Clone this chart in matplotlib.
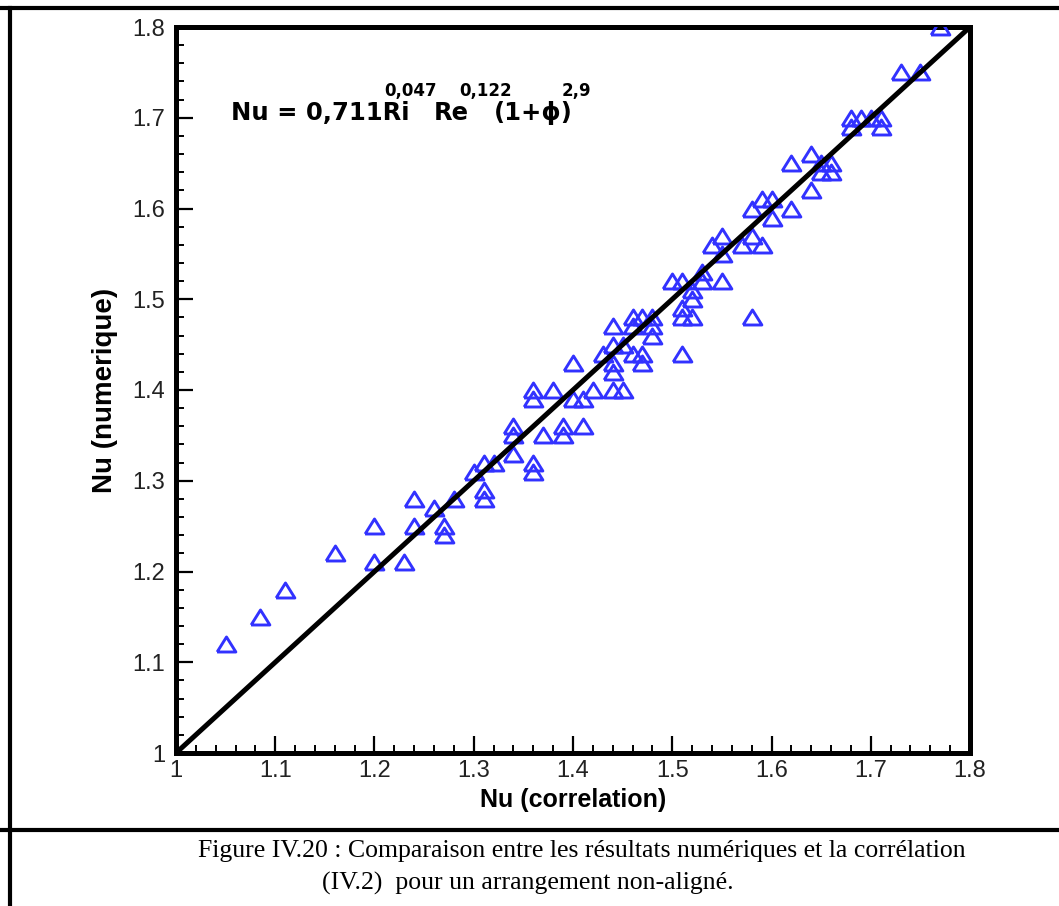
import matplotlib
matplotlib.use("Agg")
import matplotlib.pyplot as plt
from matplotlib import font_manager
from matplotlib.lines import Line2D
from matplotlib.ticker import MultipleLocator

# Nusselt number: correlation (x) vs numerical result (y)
nu_correlation = [
    1.05, 1.085, 1.11, 1.16, 1.20, 1.20, 1.23, 1.24, 1.24, 1.26, 1.27, 1.27, 1.28,
    1.30, 1.31, 1.32, 1.31, 1.31, 1.34, 1.34, 1.34, 1.36, 1.36, 1.37, 1.39, 1.39,
    1.41, 1.36, 1.36, 1.38, 1.40, 1.40, 1.41, 1.42, 1.44, 1.45, 1.44, 1.44, 1.44,
    1.43, 1.44, 1.46, 1.47, 1.47, 1.46, 1.46, 1.47, 1.48, 1.48, 1.48, 1.45, 1.51,
    1.51, 1.52, 1.51, 1.52, 1.50, 1.51, 1.53, 1.53, 1.52, 1.55, 1.54, 1.55, 1.55,
    1.57, 1.58, 1.59, 1.58, 1.58, 1.59, 1.60, 1.60, 1.62, 1.62, 1.64, 1.64, 1.65,
    1.66, 1.65, 1.66, 1.68, 1.68, 1.69, 1.70, 1.71, 1.71, 1.73, 1.75, 1.77,
]
nu_numerique = [
    1.12, 1.15, 1.18, 1.22, 1.25, 1.21, 1.21, 1.28, 1.25, 1.27, 1.25, 1.24, 1.28,
    1.31, 1.32, 1.32, 1.29, 1.28, 1.36, 1.35, 1.33, 1.32, 1.31, 1.35, 1.36, 1.35,
    1.36, 1.40, 1.39, 1.40, 1.43, 1.39, 1.39, 1.40, 1.40, 1.40, 1.42, 1.43, 1.45,
    1.44, 1.47, 1.44, 1.44, 1.43, 1.48, 1.47, 1.48, 1.48, 1.47, 1.46, 1.45, 1.44,
    1.48, 1.48, 1.49, 1.50, 1.52, 1.52, 1.53, 1.52, 1.51, 1.52, 1.56, 1.57, 1.55,
    1.56, 1.57, 1.56, 1.48, 1.60, 1.61, 1.61, 1.59, 1.60, 1.65, 1.66, 1.62, 1.65,
    1.65, 1.64, 1.64, 1.70, 1.69, 1.70, 1.70, 1.70, 1.69, 1.75, 1.75, 1.80,
]
# Reference line y = x
diag = [1.0, 1.8]

tick_values = [1.0, 1.1, 1.2, 1.3, 1.4, 1.5, 1.6, 1.7, 1.8]
tick_labels = ["1", "1.1", "1.2", "1.3", "1.4", "1.5", "1.6", "1.7", "1.8"]

installed = {f.name for f in font_manager.fontManager.ttflist}
narrow = "Liberation Sans Narrow" if "Liberation Sans Narrow" in installed else "Liberation Sans"
sans = ["Liberation Sans", "DejaVu Sans"]
eq_font = ["DejaVu Sans"]
serif = ["Liberation Serif", "DejaVu Serif"]

W, H = 1059, 906
fig = plt.figure(figsize=(W / 100, H / 100), dpi=100)

# Axes box in pixel terms
left, right, top, bottom = 176, 970, 27, 753
ax = fig.add_axes([left / W, 1 - bottom / H, (right - left) / W, (bottom - top) / H])

tri = [(-1, -0.8), (1, -0.8), (0, 0.8), (-1, -0.8)]
ax.plot(nu_correlation, nu_numerique, linestyle="none", marker=tri,
        markersize=13.5, markerfacecolor="none", markeredgecolor="#3232ff",
        markeredgewidth=2.1, zorder=3)
ax.plot(diag, diag, color="black", linewidth=3.6, zorder=4, solid_capstyle="butt")

ax.set_xlim(1.0, 1.8)
ax.set_ylim(1.0, 1.8)
ax.set_xticks(tick_values)
ax.set_xticklabels(tick_labels)
ax.set_yticks(tick_values)
ax.set_yticklabels(tick_labels)
ax.xaxis.set_minor_locator(MultipleLocator(0.02))
ax.yaxis.set_minor_locator(MultipleLocator(0.02))
ax.tick_params(which="major", direction="in", length=12, width=1.6,
               labelsize=17, top=False, right=False)
ax.tick_params(axis="x", which="major", pad=5)
ax.tick_params(axis="y", which="major", pad=8)
ax.tick_params(which="minor", direction="in", length=6, width=1.4,
               top=False, right=False)
for lab in ax.get_xticklabels() + ax.get_yticklabels():
    lab.set_family([narrow, "DejaVu Sans"])
    lab.set_color("#222222")
for sp in ax.spines.values():
    sp.set_linewidth(3.6)

ax.set_xlabel("Nu (correlation)", family=sans, fontweight="bold", fontsize=18, labelpad=4)
ax.set_ylabel("Nu (numerique)", family=sans, fontweight="bold", fontsize=20, labelpad=10)

# Correlation equation, placed piece by piece (pixel anchors)
def put(px, py, s, size):
    fig.text(px / W, 1 - py / H, s, ha="left", va="center", fontsize=size,
             fontweight="bold", family=eq_font, color="black")

put(231, 113, "Nu = 0,711Ri", 17.5)
put(384, 91, "0,047", 12)
put(434, 113, "Re", 17.5)
put(459, 91, "0,122", 12)
put(494, 113, "(1+\u03d5)", 17.5)
put(562, 91, "2,9", 12)

# Page frame lines around the figure and caption
frame = dict(color="black", linewidth=3, transform=fig.transFigure, figure=fig)
fig.lines.append(Line2D([0, 1], [1 - 8 / H, 1 - 8 / H], **frame))
fig.lines.append(Line2D([10 / W, 10 / W], [0, 1 - 8 / H], **frame))
fig.lines.append(Line2D([0, 1], [1 - 830 / H, 1 - 830 / H], **frame))

fig.text(582 / W, 1 - 851 / H,
         "Figure IV.20 : Comparaison entre les résultats numériques et la corrélation",
         ha="center", va="center", fontsize=18.5, family=serif)
fig.text(528 / W, 1 - 883 / H,
         "(IV.2)  pour un arrangement non-aligné.",
         ha="center", va="center", fontsize=18.5, family=serif)

fig.savefig("out.png", dpi=100, facecolor="white")
